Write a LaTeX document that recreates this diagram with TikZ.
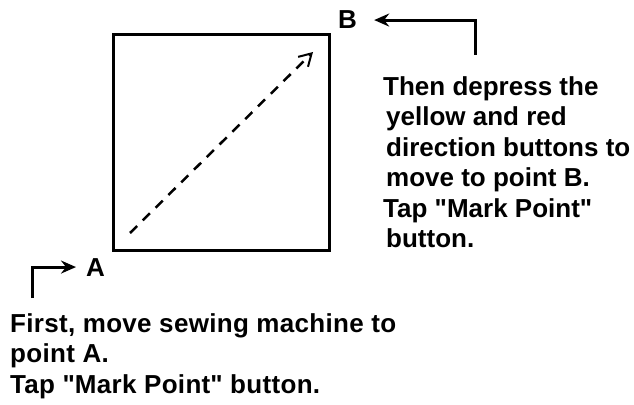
\documentclass[tikz,border=0pt]{standalone}
\usepackage{fontspec}
\setmainfont{Liberation Sans}
\newfontfamily\widefont{Liberation Sans}[LetterSpace=1.2]
\usetikzlibrary{arrows.meta}
\begin{document}
\begin{tikzpicture}[x=1pt,y=-1pt,
  txt/.style={inner sep=0pt, align=left, anchor=north west, font=\fontsize{26}{30.5}\selectfont\bfseries},
  lbl/.style={inner sep=0pt, anchor=base west, font=\fontsize{26}{31}\selectfont\bfseries},
  conn/.style={line width=3pt, -{Stealth[length=15pt,width=13pt,inset=5pt]}},
  box/.style={draw, line width=3pt, minimum width=216pt, minimum height=215pt, inner sep=0pt}
]
\useasboundingbox (0,0) rectangle (634,404);
\node[box] (sq) at (221,142.5) {};
\coordinate (d0) at (130,233);
\coordinate (d1) at (313,52);
\draw[line width=2.5pt, dash pattern=on 10pt off 8pt, -{Straight Barb[length=12pt,width=14pt,line width=2pt]}] (d0) -- (d1);
\node[lbl] (A) at (86,276) {A};
\coordinate (a0) at (32,298);
\draw[conn, shorten >=10pt] (a0) |- (A.west);
\node[lbl] (B) at (338,29) {B};
\coordinate (b0) at (475,55);
\draw[conn, shorten >=17pt] (b0) |- (B.east);
\node[txt] (t1) at (383,76) {Then depress the\\\hspace{3pt}yellow and red\\\hspace{3pt}direction buttons to\\\hspace{3pt}move to point B.\\Tap \textquotedbl Mark Point\textquotedbl\\\hspace{3pt}button.};
\node[txt, font=\fontsize{26}{30.5}\widefont\bfseries] (t2) at (10,313) {First, move sewing machine to\\point A.\\Tap \textquotedbl Mark Point\textquotedbl{} button.};
\end{tikzpicture}
\end{document}
